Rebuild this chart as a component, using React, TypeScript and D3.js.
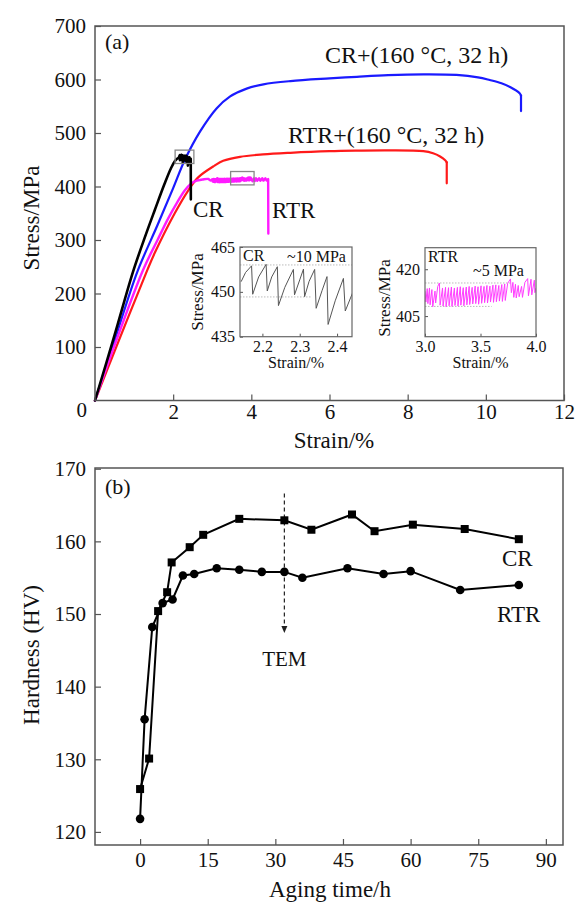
import React, { useRef, useEffect } from "react";
import * as d3 from "d3";

type Pt = [number, number];

const FONT = "'Liberation Serif', 'Times New Roman', serif";

// ---- panel (a): tensile curves, [strain %, stress MPa]
const crCurve: Pt[] = [
    [0, 0], [0.5, 122], [0.97, 240], [1.3, 310], [1.53, 356], [1.78, 405],
    [1.95, 435], [2.05, 448], [2.1, 452],
];
// serrated part, also shown in the CR inset
const crSerration: Pt[] = [
    [2.143, 453.4], [2.155, 456.5], [2.171, 458.7], [2.174, 449.2], [2.19, 455],
    [2.21, 459.2], [2.213, 450.3], [2.225, 455], [2.24, 458.4], [2.243, 445.4],
    [2.26, 451.5], [2.283, 457.5], [2.286, 449.0], [2.3, 454], [2.31, 457.6],
    [2.313, 448.4], [2.325, 453.5], [2.34, 457.5], [2.344, 444.5], [2.36, 450.5],
    [2.373, 455.1], [2.376, 439.1], [2.395, 447], [2.417, 454.5], [2.422, 443.6],
    [2.442, 449.8],
];
const crTail: Pt[] = [[2.45, 452], [2.452, 376]];

const rtrCurve: Pt[] = [
    [0, 0], [0.5, 103], [1.23, 244], [1.6, 300], [1.87, 340], [2.1, 370],
    [2.3, 393], [2.45, 405], [2.6, 411], [2.75, 413], [2.9, 414], [2.96, 411],
];
// serrated part, also shown in the RTR inset
const rtrSerration: Pt[] = [
    [3.0, 413.0], [3.008, 409.5], [3.02, 413.8], [3.026, 409.0], [3.04, 414.0],
    [3.046, 408.6], [3.062, 413.5], [3.07, 408.0], [3.09, 413.0], [3.096, 409.2],
    [3.115, 414.5], [3.13, 415.6], [3.136, 408.5], [3.158, 414.0], [3.163, 408.2],
    [3.185, 414.2], [3.19, 408.0], [3.212, 414.1], [3.217, 408.3], [3.238, 414.3],
    [3.243, 408.1], [3.265, 414.0], [3.27, 408.4], [3.292, 414.2], [3.297, 408.2],
    [3.318, 414.4], [3.323, 408.5], [3.345, 414.1], [3.35, 408.3], [3.372, 414.3],
    [3.377, 408.6], [3.398, 414.5], [3.403, 408.7], [3.425, 414.2], [3.43, 408.9],
    [3.452, 414.6], [3.457, 409.0], [3.478, 414.4], [3.483, 408.8], [3.505, 414.7],
    [3.51, 409.1], [3.532, 414.5], [3.537, 409.3], [3.558, 414.8], [3.563, 409.2],
    [3.585, 414.6], [3.59, 409.5], [3.612, 414.9], [3.617, 409.4], [3.638, 415.0],
    [3.643, 409.6], [3.665, 414.8], [3.67, 409.8], [3.692, 415.1], [3.697, 409.7],
    [3.718, 415.3], [3.723, 410.0], [3.745, 415.5], [3.77, 416.9], [3.778, 412.5],
    [3.792, 415.8], [3.8, 411.0], [3.815, 415.2], [3.822, 410.8], [3.84, 414.8],
    [3.848, 411.2], [3.87, 414.5], [3.878, 411.0], [3.9, 415.8], [3.925, 417.0],
    [3.932, 411.5], [3.955, 416.8], [3.962, 411.8], [3.985, 416.5], [3.99, 412.5],
    [4.0, 414.0],
];
const rtrTail: Pt[] = [
    [4.03, 409.8], [4.06, 415.0], [4.09, 410.2], [4.12, 415.4], [4.15, 410.6],
    [4.2, 415.2], [4.23, 410.8], [4.28, 415.6], [4.31, 411.0], [4.36, 415.3],
    [4.39, 411.2], [4.43, 414.0], [4.435, 312],
];

const crAgedCurve: Pt[] = [
    [0, 0], [0.5, 112], [1.08, 240], [1.6, 328], [2.0, 397], [2.3, 450],
    [2.69, 503], [3.11, 546], [3.45, 568], [3.88, 583], [4.31, 591], [5.0, 597],
    [6.0, 602], [6.7, 605], [7.5, 608], [8.4, 609.5], [9.25, 608.5], [9.8, 604],
    [10.1, 599], [10.4, 593], [10.62, 586], [10.87, 574], [10.9, 570], [10.9, 541],
];
const rtrAgedCurve: Pt[] = [
    [0, 0], [0.5, 92], [1.34, 244], [1.53, 276], [2.04, 350], [2.38, 392],
    [2.64, 417], [3.06, 439], [3.28, 448], [3.71, 455.5], [4.3, 460], [5.0, 463],
    [6.0, 466], [6.7, 467], [7.5, 467.5], [8.4, 466], [8.65, 462], [8.83, 456],
    [8.96, 449], [9.0, 445], [9.0, 406],
];

const strainTicks = [2, 4, 6, 8, 10, 12];
const stressTicks = [100, 200, 300, 400, 500, 600, 700];

// zoom boxes on the main curves [strain0, strain1, stress0, stress1]
const crBox = [2.05, 2.53, 443, 468];
const rtrBox = [3.47, 4.07, 403, 428];

// insets
const crInsetStrain = [2.14, 2.44];
const crInsetStress = [435, 465];
const crInsetXTicks = [2.2, 2.3, 2.4];
const crInsetYTicks = [435, 450, 465];
const crInsetRefs = [[2.14, 2.44, 459], [2.14, 2.33, 448.3]];

const rtrInsetStrain = [3.0, 4.0];
const rtrInsetStress = [398.4, 426.9];
const rtrInsetXTicks = [3.0, 3.5, 4.0];
const rtrInsetYTicks = [405, 420];
const rtrInsetRefs = [[3.0, 3.77, 415.6], [3.0, 3.6, 408.1]];

// ---- panel (b): hardness vs aging time
const timeCR = [0, 2, 4, 6, 7, 11, 14, 22, 32, 38, 47, 52, 60.5, 72, 84];
const hvCR = [125.9, 130.1, 150.4, 153.0, 157.1, 159.2, 160.9, 163.1, 162.9, 161.6, 163.7, 161.4, 162.3, 161.7, 160.3];
const timeRTR = [0, 1, 2.7, 5, 7.2, 9.5, 12, 17, 22, 27, 32, 36, 46, 54, 60, 71, 84];
const hvRTR = [121.8, 135.5, 148.2, 151.5, 152.0, 155.3, 155.5, 156.3, 156.1, 155.8, 155.8, 155.0, 156.3, 155.5, 155.9, 153.3, 154.0];
const timeTicks = [0, 15, 30, 45, 60, 75, 90];
const hvTicks = [120, 130, 140, 150, 160, 170];
const temTime = 32;
const temRange = [166.6, 147.4];

const frameColor = "#555";

const App = () => {
    const ref = useRef<SVGSVGElement>(null);

    useEffect(() => {
        document.body.style.margin = "0";
        const svg = d3.select(ref.current);
        svg.selectAll("*").remove();
        svg.attr("font-family", FONT);

        const styleAxis = (g: any, fs: number, tl = 1.2) => {
            g.attr("font-family", FONT).attr("font-size", fs);
            g.select(".domain").remove();
            g.selectAll(".tick line").attr("stroke", frameColor).attr("stroke-width", tl);
            g.selectAll(".tick text").attr("fill", "#111");
        };

        const text = (x: number, y: number, s: string, fs: number, anchor = "start", rot = false) => {
            const t = svg.append("text")
                .attr("x", x).attr("y", y)
                .attr("font-size", fs)
                .attr("text-anchor", anchor)
                .attr("fill", "#111")
                .text(s);
            if (rot) t.attr("transform", `rotate(-90,${x},${y})`);
            return t;
        };

        // ================= panel (a) =================
        const xA = d3.scaleLinear().domain([0, 12]).range([95, 564]);
        const yA = d3.scaleLinear().domain([0, 700]).range([400.5, 26]);

        svg.append("g").attr("transform", `translate(0,${yA(0)})`)
            .call(d3.axisBottom(xA).tickValues(strainTicks).tickSizeInner(-6).tickSizeOuter(0).tickPadding(4))
            .call(styleAxis, 21);
        svg.append("g").attr("transform", `translate(${xA(0)},0)`)
            .call(d3.axisLeft(yA).tickValues(stressTicks).tickSizeInner(-6).tickSizeOuter(0).tickPadding(9))
            .call(styleAxis, 21);
        text(87, 417, "0", 21, "end");

        const smooth = d3.line<Pt>().x(d => xA(d[0])).y(d => yA(d[1])).curve(d3.curveCatmullRom.alpha(0.5));
        const straight = d3.line<Pt>().x(d => xA(d[0])).y(d => yA(d[1]));
        // smooth rising part + straight serrated / fracture part
        const drawA = (rise: Pt[], rest: Pt[], color: string, w: number) => {
            const g = svg.append("g").attr("fill", "none").attr("stroke", color)
                .attr("stroke-width", w).attr("stroke-linejoin", "round").attr("stroke-linecap", "round");
            g.append("path").datum(rise).attr("d", smooth);
            g.append("path").datum([rise[rise.length - 1], ...rest]).attr("d", straight);
        };

        drawA(rtrAgedCurve.slice(0, -1), rtrAgedCurve.slice(-1), "#ff1a1a", 2.2);
        drawA(crAgedCurve.slice(0, -1), crAgedCurve.slice(-1), "#1a1aff", 2.2);
        drawA([...rtrCurve, rtrSerration[0]], [...rtrSerration.slice(1), ...rtrTail], "#ff1aff", 2.4);
        drawA([...crCurve, crSerration[0]], [...crSerration.slice(1), ...crTail], "#000", 2.6);

        [crBox, rtrBox].forEach(b => {
            svg.append("rect")
                .attr("x", xA(b[0])).attr("y", yA(b[3]))
                .attr("width", xA(b[1]) - xA(b[0])).attr("height", yA(b[2]) - yA(b[3]))
                .attr("fill", "none").attr("stroke", "#888").attr("stroke-width", 1.3);
        });

        svg.append("rect").attr("x", 95).attr("y", 26).attr("width", 469).attr("height", 374.5)
            .attr("fill", "none").attr("stroke", frameColor).attr("stroke-width", 1.5);

        text(105, 49, "(a)", 22);
        text(325, 63, "CR+(160 °C, 32 h)", 24);
        text(288, 143, "RTR+(160 °C, 32 h)", 24);
        text(193, 217, "CR", 23);
        text(272, 218, "RTR", 23);
        text(334, 448, "Strain/%", 23, "middle");
        text(39, 218, "Stress/MPa", 23, "middle", true);

        // ---- insets
        const inset = (
            box: number[], xd: number[], yd: number[], xt: number[], yt: number[],
            data: Pt[], color: string, refs: number[][], id: string, ylabX: number, ylabY: number,
            fmtX: (v: number) => string,
        ) => {
            const [x0, y0, x1, y1] = box;
            const xs = d3.scaleLinear().domain(xd).range([x0, x1]);
            const ys = d3.scaleLinear().domain(yd).range([y1, y0]);
            svg.append("rect").attr("x", x0).attr("y", y0).attr("width", x1 - x0).attr("height", y1 - y0)
                .attr("fill", "#fff");
            svg.append("clipPath").attr("id", id).append("rect")
                .attr("x", x0).attr("y", y0).attr("width", x1 - x0).attr("height", y1 - y0);
            const g = svg.append("g").attr("clip-path", `url(#${id})`);
            refs.forEach(r => {
                g.append("line")
                    .attr("x1", xs(r[0])).attr("x2", xs(r[1])).attr("y1", ys(r[2])).attr("y2", ys(r[2]))
                    .attr("stroke", "#bbb").attr("stroke-width", 1).attr("stroke-dasharray", "1.5,1.5");
            });
            g.append("path").datum(data)
                .attr("fill", "none").attr("stroke", color).attr("stroke-width", 1)
                .attr("d", d3.line<Pt>().x(d => xs(d[0])).y(d => ys(d[1])));
            svg.append("g").attr("transform", `translate(0,${y1})`)
                .call(d3.axisBottom(xs).tickValues(xt).tickFormat(fmtX as any).tickSizeInner(-3).tickSizeOuter(0).tickPadding(4))
                .call(styleAxis, 16, 1);
            svg.append("g").attr("transform", `translate(${x0},0)`)
                .call(d3.axisLeft(ys).tickValues(yt).tickSizeInner(-3).tickSizeOuter(0).tickPadding(5))
                .call(styleAxis, 16, 1);
            svg.append("rect").attr("x", x0).attr("y", y0).attr("width", x1 - x0).attr("height", y1 - y0)
                .attr("fill", "none").attr("stroke", "#666").attr("stroke-width", 1.2);
            text((x0 + x1) / 2, 368, "Strain/%", 16, "middle");
            text(ylabX, ylabY, "Stress/MPa", 17, "middle", true);
        };

        inset([240, 247, 352, 336.7], crInsetStrain, crInsetStress, crInsetXTicks, crInsetYTicks,
            crSerration, "#555", crInsetRefs, "clipCR", 203, 292, d3.format(".1f"));
        text(243, 261, "CR", 16);
        text(287, 262, "~10 MPa", 16);

        inset([425, 247.7, 536, 336.7], rtrInsetStrain, rtrInsetStress, rtrInsetXTicks, rtrInsetYTicks,
            rtrSerration, "#ff3dff", rtrInsetRefs, "clipRTR", 390, 298, d3.format(".1f"));
        text(428, 261.5, "RTR", 16);
        text(473, 276, "~5 MPa", 16);

        // ================= panel (b) =================
        const xB = d3.scaleLinear().domain([-10, 93.8]).range([95, 563]);
        const yB = d3.scaleLinear().domain([118.2, 170.1]).range([845, 468]);

        svg.append("g").attr("transform", `translate(0,${yB.range()[0]})`)
            .call(d3.axisBottom(xB).tickValues(timeTicks).tickSizeInner(-6).tickSizeOuter(0).tickPadding(7))
            .call(styleAxis, 21);
        svg.append("g").attr("transform", `translate(${xB.range()[0]},0)`)
            .call(d3.axisLeft(yB).tickValues(hvTicks).tickSizeInner(-6).tickSizeOuter(0).tickPadding(9))
            .call(styleAxis, 21);

        // TEM marker
        svg.append("line")
            .attr("x1", xB(temTime)).attr("x2", xB(temTime))
            .attr("y1", yB(temRange[0])).attr("y2", yB(temRange[1]) - 6)
            .attr("stroke", "#222").attr("stroke-width", 1.2).attr("stroke-dasharray", "4,3");
        const tx = xB(temTime), ty = yB(temRange[1]);
        svg.append("path")
            .attr("d", `M${tx},${ty} L${tx - 3},${ty - 7} L${tx + 3},${ty - 7} Z`)
            .attr("fill", "#222");

        const crPts = timeCR.map((t, i) => [xB(t), yB(hvCR[i])] as Pt);
        const rtrPts = timeRTR.map((t, i) => [xB(t), yB(hvRTR[i])] as Pt);

        svg.append("path").datum(rtrPts).attr("fill", "none").attr("stroke", "#000")
            .attr("stroke-width", 2).attr("d", d3.line());
        svg.append("path").datum(crPts).attr("fill", "none").attr("stroke", "#000")
            .attr("stroke-width", 2).attr("d", d3.line());

        svg.selectAll(".sq").data(crPts).enter().append("rect")
            .attr("x", d => d[0] - 4).attr("y", d => d[1] - 4)
            .attr("width", 8).attr("height", 8).attr("fill", "#000");
        svg.selectAll(".ci").data(rtrPts).enter().append("circle")
            .attr("cx", d => d[0]).attr("cy", d => d[1]).attr("r", 4.3).attr("fill", "#000");

        svg.append("rect").attr("x", 95).attr("y", 468).attr("width", 468).attr("height", 377)
            .attr("fill", "none").attr("stroke", frameColor).attr("stroke-width", 1.5);

        text(105, 494, "(b)", 22);
        text(502, 566, "CR", 23);
        text(497, 622, "RTR", 23);
        text(xB(temTime), 666, "TEM", 21, "middle");
        text(330, 897, "Aging time/h", 23, "middle");
        text(39, 655, "Hardness (HV)", 23, "middle", true);
    }, []);

    return (
        <svg ref={ref} width={576} height={906} style={{ display: "block" }}></svg>
    );
};

export default App;
